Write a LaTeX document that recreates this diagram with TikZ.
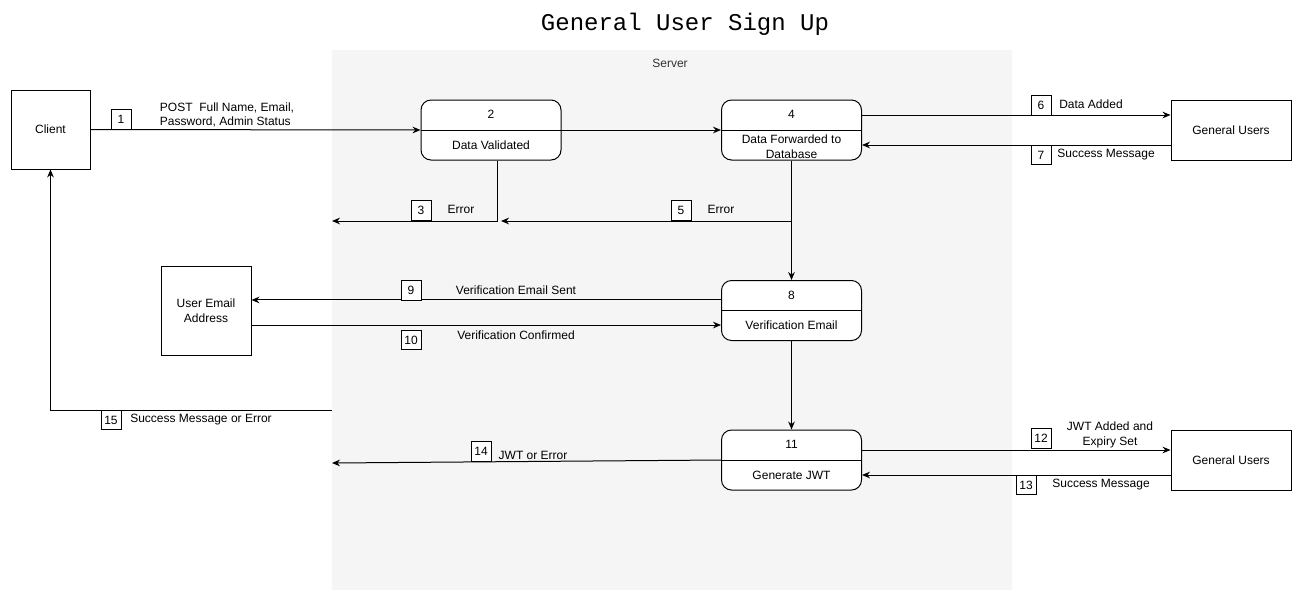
\documentclass[tikz,border=0pt]{standalone}
\usepackage{fontspec}
\setmainfont{Liberation Sans}
\newfontfamily\titlefont{Liberation Mono}
\usetikzlibrary{arrows.meta}
\definecolor{serverbg}{HTML}{F5F5F5}
\tikzset{
  ent/.style={draw, line width=0.75pt, fill=white, align=center, font=\fontsize{9}{11}\selectfont},
  proc/.style={draw, line width=0.75pt, fill=white, rounded corners=7.5pt, minimum width=105pt, minimum height=45pt},
  txt/.style={align=center, font=\fontsize{9}{11}\selectfont, inner sep=0pt},
  lbl/.style={align=left, font=\fontsize{9}{11}\selectfont, inner sep=0pt},
  num/.style={draw, line width=0.6pt, fill=white, font=\fontsize{9}{11}\selectfont, minimum width=15pt, minimum height=14.5pt, inner sep=0pt},
  flow/.style={line width=0.75pt, -{Stealth[length=6pt,width=5pt,inset=2pt]}},
  link/.style={line width=0.75pt}
}
\begin{document}
\begin{tikzpicture}[x=0.75pt,y=-0.75pt]
  \useasboundingbox (0,0) rectangle (1302,601);
  % background and title
  \fill[serverbg] (332,50) rectangle (1012,590);
  \node[txt, text=black!80] (server) at (670,63) {Server};
  \node[inner sep=0pt, font=\titlefont\fontsize{18}{22}\selectfont] (title) at (685,24) {General User Sign Up};

  % external entities
  \node[ent, minimum width=59.25pt, minimum height=59.25pt] (client) at (50.5,129.5) {Client};
  \node[ent, minimum width=67.5pt, minimum height=66.75pt] (uea) at (206,310.5) {User Email\\Address};
  \node[ent, minimum width=90pt, minimum height=45pt] (gu1) at (1231,130) {General Users};
  \node[ent, minimum width=90pt, minimum height=45pt] (gu2) at (1231,460) {General Users};

  % processes
  \node[proc] (p2) at (491,130) {};
  \node[proc] (p4) at (791.5,130) {};
  \node[proc] (p8) at (791.5,310.5) {};
  \node[proc] (p11) at (791.5,460) {};
  \foreach \p in {p2,p4,p8,p11}
    \draw[link] (\p.west) -- (\p.east);
  \node[txt] (p2n) at (491,114) {2};
  \node[txt] (p2t) at (491,145) {Data Validated};
  \node[txt] (p4n) at (791.5,114) {4};
  \node[txt] (p4t) at (791.5,147) {Data Forwarded to\\Database};
  \node[txt] (p8n) at (791.5,295) {8};
  \node[txt] (p8t) at (791.5,325) {Verification Email};
  \node[txt] (p11n) at (791.5,444) {11};
  \node[txt] (p11t) at (791.5,475) {Generate JWT};

  % free ends
  \coordinate (err3) at (332,221);
  \coordinate (j5) at (791.5,221);
  \coordinate (err5) at (501,221);
  \coordinate (out14) at (332,463);
  \coordinate (in15) at (332,410);

  % flows
  \draw[flow] (client.east) -- (p2.west);
  \draw[flow] (p2.east) -- (p4.west);
  \draw[flow] ([yshift=11.25pt]p4.east) -- ([yshift=11.25pt]gu1.west);
  \draw[flow] ([yshift=-11.25pt]gu1.west) -- ([yshift=-11.25pt]p4.east);
  \draw[flow] ([xshift=4.5pt]p2.south) |- (err3);
  \draw[flow] (p4.south) -- (p8.north);
  \draw[flow] (j5) -- (err5);
  \draw[flow] ([yshift=7.9pt]p8.west) -- ([yshift=7.9pt]uea.east);
  \draw[flow] ([yshift=-10.9pt]uea.east) -- ([yshift=-10.9pt]p8.west);
  \draw[flow] (p8.south) -- (p11.north);
  \draw[flow] (p11.west) -- (out14);
  \draw[flow] ([yshift=7.5pt]p11.east) -- ([yshift=7.5pt]gu2.west);
  \draw[flow] ([yshift=-11.25pt]gu2.west) -- ([yshift=-11.25pt]p11.east);
  \draw[flow] (in15) -| (client.south);

  % flow numbers and labels
  \node[num] (n1) at (121,119.5) {1};
  \node[lbl] (l1) at (227,115) {POST\ \ Full Name, Email,\\Password, Admin Status};
  \node[num] (n3) at (421,210.5) {3};
  \node[lbl] (l3) at (461,209) {Error};
  \node[num] (n5) at (681,210.5) {5};
  \node[lbl] (l5) at (721,209) {Error};
  \node[num] (n6) at (1041,105.5) {6};
  \node[lbl] (l6) at (1091,104) {Data Added};
  \node[num] (n7) at (1041,155) {7};
  \node[lbl] (l7) at (1106,155) {Success Message};
  \node[num] (n9) at (411,290.5) {9};
  \node[lbl] (l9) at (516,290) {Verification Email Sent};
  \node[num] (n10) at (411,340) {10};
  \node[lbl] (l10) at (516,335) {Verification Confirmed};
  \node[num] (n12) at (1041,438.5) {12};
  \node[lbl, align=center] (l12) at (1110,435) {JWT Added and\\Expiry Set};
  \node[num] (n13) at (1026,485) {13};
  \node[lbl] (l13) at (1101,485) {Success Message};
  \node[num] (n14) at (481,451.5) {14};
  \node[lbl] (l14) at (533,455) {JWT or Error};
  \node[num] (n15) at (111,420) {15};
  \node[lbl] (l15) at (201,420) {Success Message or Error};
\end{tikzpicture}
\end{document}
